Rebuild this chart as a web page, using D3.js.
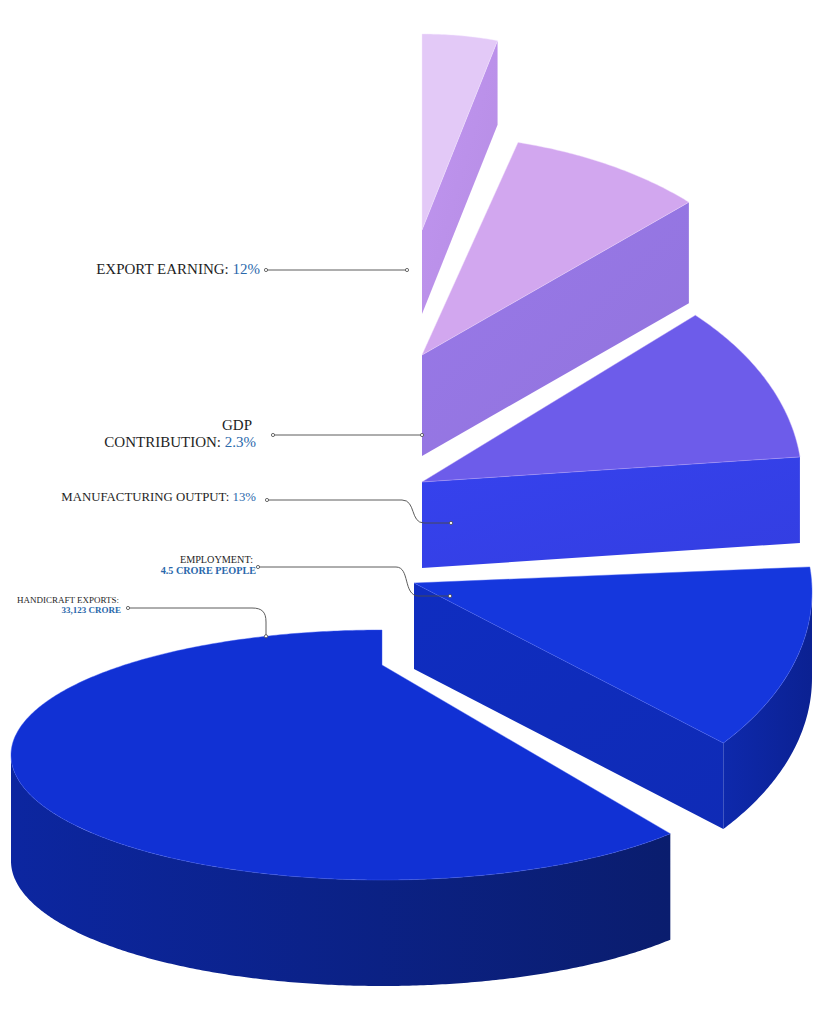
<!DOCTYPE html>
<html>
<head>
<meta charset="utf-8">
<script src="https://cdn.jsdelivr.net/npm/d3@7"></script>
<style>
html,body{margin:0;padding:0;background:#ffffff;}
svg{display:block;}
</style>
</head>
<body>
<svg id="chart" width="819" height="1024"></svg>
<script>
// ---------------- DATA ----------------
const categories = ["EXPORT EARNING", "GDP CONTRIBUTION", "MANUFACTURING OUTPUT", "EMPLOYMENT", "HANDICRAFT EXPORTS"];
const valueTexts = ["12%", "2.3%", "13%", "4.5 CRORE PEOPLE", "33,123 CRORE"];
// share of the pie each slice occupies (degrees of the 360 circle)
const sliceShares = [15, 31, 38, 45, 231];

// ---------------- LAYOUT (exploded 3D frames, one per slice) ----------------
const frames = [
  {cx: 422, cy: 230, rx: 292, ry: 196, apexDy: 0,   depth: 84},
  {cx: 422, cy: 355, rx: 371, ry: 220, apexDy: 0,   depth: 101},
  {cx: 422, cy: 482, rx: 380, ry: 240, apexDy: 0,   depth: 86},
  {cx: 414, cy: 592, rx: 398, ry: 240, apexDy: -9,  depth: 86},
  {cx: 382, cy: 755, rx: 371, ry: 125, apexDy: -90, depth: 106}
];
const palette = [
  {top: "#e3c9f7", side: "#bb91ea", wall: ["#b58ae6", "#a67ee0"], edge: "#f3e6ff"},
  {top: "#d2a7ef", side: "#9576e2", wall: ["#8e70e0", "#7f63dc"], edge: "#ecd6fb"},
  {top: "#6d5cea", side: "#3440e7", wall: ["#2235d8", "#1a2ccb"], edge: "#b9a4f7"},
  {top: "#1537dd", side: "#0f2cbb", wall: ["#0e29ac", "#0b2192"], edge: "#4a63f3"},
  {top: "#1131d4", side: "#0d28aa", wall: ["#0c26a0", "#0a1d6e"], edge: "#3c58f2"}
];

const svg = d3.select("#chart");
const defs = svg.append("defs");
palette.forEach((p, i) => {
  const g = defs.append("linearGradient").attr("id", "wall" + i)
    .attr("x1", "0%").attr("x2", "100%").attr("y1", "0%").attr("y2", "0%");
  g.append("stop").attr("offset", "0%").attr("stop-color", p.wall[0]);
  g.append("stop").attr("offset", "100%").attr("stop-color", p.wall[1]);
  const s = defs.append("linearGradient").attr("id", "side" + i)
    .attr("x1", "0%").attr("x2", "100%").attr("y1", "0%").attr("y2", "100%");
  s.append("stop").attr("offset", "0%").attr("stop-color", d3.color(p.side).brighter(0.08));
  s.append("stop").attr("offset", "100%").attr("stop-color", d3.color(p.side).darker(0.08));
});

const arcs = d3.pie().sort(null).value(d => d)(sliceShares);

function pt(f, a, drop) {
  return [f.cx + f.rx * Math.sin(a), f.cy - f.ry * Math.cos(a) + (drop || 0)];
}
function arcPts(f, a0, a1, drop) {
  const n = Math.max(2, Math.ceil((a1 - a0) / 0.01));
  return d3.range(n + 1).map(k => pt(f, a0 + (a1 - a0) * k / n, drop));
}
const poly = pts => d3.line()(pts) + "Z";

const slicesG = svg.append("g");
arcs.forEach((arc, i) => {
  const f = frames[i], p = palette[i];
  const a0 = arc.startAngle, a1 = arc.endAngle;
  const apex = [f.cx, f.cy + f.apexDy];
  const g = slicesG.append("g").attr("class", "slice");

  // outer curved wall (only the part facing the viewer)
  const w0 = Math.max(a0, Math.PI / 2), w1 = Math.min(a1, 3 * Math.PI / 2);
  if (w1 > w0) {
    const up = arcPts(f, w0, w1, 0), down = arcPts(f, w0, w1, f.depth).reverse();
    g.append("path").attr("d", poly(up.concat(down))).attr("fill", `url(#wall${i})`);
  }
  // cut face at the clockwise end of the slice
  const e = pt(f, a1, 0);
  if (Math.abs(e[0] - apex[0]) > 0.5) {
    g.append("path")
      .attr("d", poly([apex, e, [e[0], e[1] + f.depth], [apex[0], apex[1] + f.depth]]))
      .attr("fill", `url(#side${i})`);
  }
  // top face
  g.append("path")
    .attr("d", poly([apex].concat(arcPts(f, a0, a1, 0))))
    .attr("fill", p.top)
    .attr("stroke", p.edge).attr("stroke-opacity", 0.55).attr("stroke-width", 0.8);
});

// ---------------- LABELS ----------------
const labelLayout = [
  {lines: [{name: "EXPORT EARNING: ", value: true}], x: 260, y: 274, size: 15, lh: 17},
  {lines: [{name: "GDP", value: false, dx: -4}, {name: "CONTRIBUTION: ", value: true}], x: 256, y: 430, size: 15, lh: 17},
  {lines: [{name: "MANUFACTURING OUTPUT: ", value: true}], x: 256, y: 501, size: 12.8, lh: 14},
  {lines: [{name: "EMPLOYMENT:", value: false, dx: -3}, {name: "", value: true, bold: true}], x: 256, y: 563, size: 10.2, lh: 11},
  {lines: [{name: "HANDICRAFT EXPORTS:", value: false, dx: -2}, {name: "", value: true, bold: true}], x: 121, y: 603, size: 9, lh: 10}
];
const textG = svg.append("g")
  .attr("font-family", "'Liberation Serif','DejaVu Serif',serif")
  .attr("fill", "#1e1e1e");
labelLayout.forEach((L, i) => {
  L.lines.forEach((ln, k) => {
    const t = textG.append("text")
      .attr("x", L.x + (ln.dx || 0)).attr("y", L.y + k * L.lh)
      .attr("text-anchor", "end").attr("font-size", L.size);
    if (ln.name) t.append("tspan").text(ln.name);
    if (ln.value) t.append("tspan").text(valueTexts[i])
      .attr("fill", "#2a68ab").attr("font-weight", ln.bold ? "bold" : "normal");
  });
});

// ---------------- LEADER LINES ----------------
function leaderPath(i) {
  const f = frames[i];
  const apex = [f.cx, f.cy + f.apexDy];
  const p = d3.path();
  if (i === 0) { p.moveTo(266, 270); p.lineTo(apex[0] - 15, 270); return [p, [266, 270], [apex[0] - 15, 270]]; }
  if (i === 1) { p.moveTo(273, 435); p.lineTo(apex[0], 435); return [p, [273, 435], [apex[0], 435]]; }
  if (i === 2) {
    const end = [apex[0] + 29, apex[1] + 41];
    p.moveTo(267, 500); p.lineTo(402, 500);
    p.bezierCurveTo(416, 500, 410, end[1], 424, end[1]); p.lineTo(end[0], end[1]);
    return [p, [267, 500], end];
  }
  if (i === 3) {
    const end = [apex[0] + 36, apex[1] + 13];
    p.moveTo(258, 567); p.lineTo(396, 567);
    p.bezierCurveTo(410, 567, 403, end[1] - 1, 418, end[1]); p.lineTo(end[0], end[1]);
    return [p, [258, 567], end];
  }
  const topY = pt(f, -Math.asin((f.cx - 266) / f.rx) + 2 * Math.PI, 0)[1];
  p.moveTo(128, 608); p.lineTo(252, 608);
  p.bezierCurveTo(262, 608, 266, 612, 266, 622); p.lineTo(266, topY);
  return [p, [128, 608], [266, topY]];
}
const leadG = svg.append("g");
categories.forEach((c, i) => {
  const [p, s, e] = leaderPath(i);
  leadG.append("path").attr("d", p.toString())
    .attr("fill", "none").attr("stroke", "#4a4a4a").attr("stroke-width", 0.9);
  [s, e].forEach(q => leadG.append("circle").attr("cx", q[0]).attr("cy", q[1]).attr("r", 1.6)
    .attr("fill", "#ffffff").attr("stroke", "#4a4a4a").attr("stroke-width", 0.8));
});
</script>
</body>
</html>
